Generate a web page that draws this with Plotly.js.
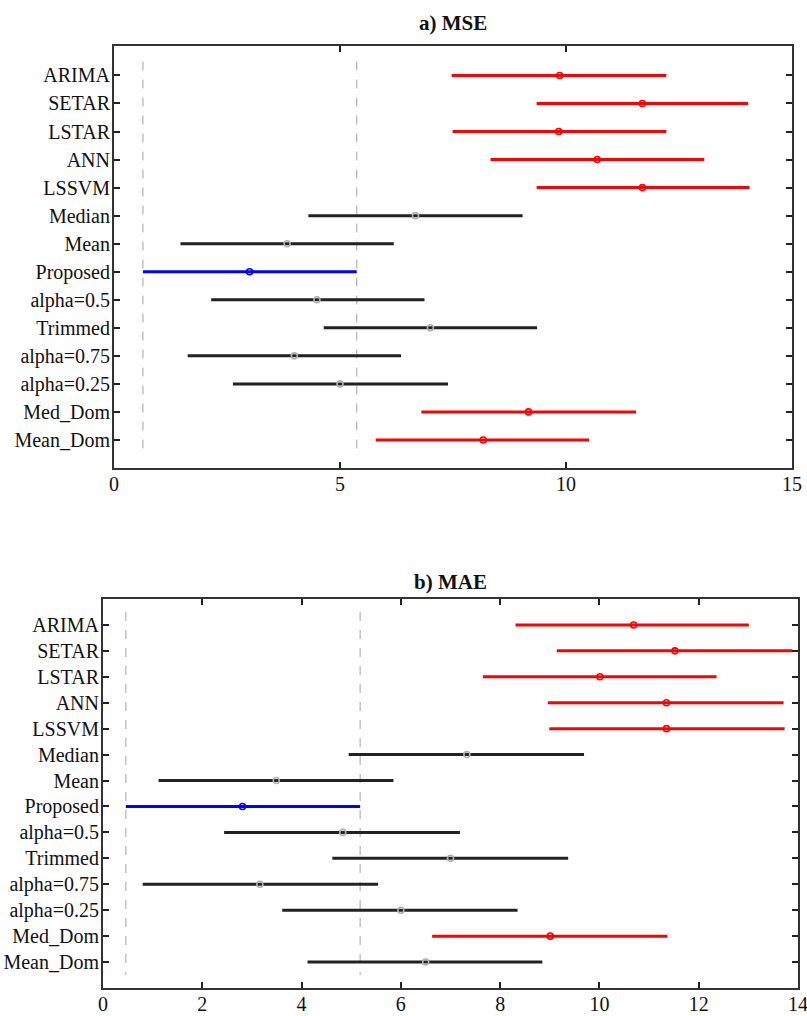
<!DOCTYPE html>
<html>
<head>
<meta charset="utf-8">
<script src="https://cdn.plot.ly/plotly-3.0.1.min.js"></script>
<style>html,body{margin:0;padding:0;background:#fff;}#chart{width:807px;height:1016px;}</style>
</head>
<body>
<div id="chart"></div>
<script>
const categories = ["ARIMA","SETAR","LSTAR","ANN","LSSVM","Median","Mean","Proposed","alpha=0.5","Trimmed","alpha=0.75","alpha=0.25","Med_Dom","Mean_Dom"];

// a) MSE
const mseCenter = [9.86, 11.69, 9.84, 10.69, 11.69, 6.67, 3.83, 3.00, 4.49, 7.00, 3.99, 5.00, 9.17, 8.17];
const mseLow    = [7.47, 9.35, 7.49, 8.33, 9.35, 4.30, 1.47, 0.64, 2.15, 4.64, 1.63, 2.63, 6.80, 5.79];
const mseHigh   = [12.22, 14.03, 12.22, 13.06, 14.06, 9.04, 6.19, 5.37, 6.87, 9.36, 6.35, 7.39, 11.55, 10.51];
const mseGroup  = ["sig","sig","sig","sig","sig","ns","ns","best","ns","ns","ns","ns","sig","sig"];

// b) MAE
const maeCenter = [10.69, 11.52, 10.01, 11.35, 11.35, 7.33, 3.49, 2.81, 4.83, 7.00, 3.16, 6.00, 9.01, 6.50];
const maeLow    = [8.31, 9.14, 7.65, 8.96, 8.99, 4.95, 1.12, 0.46, 2.44, 4.62, 0.80, 3.61, 6.63, 4.12];
const maeHigh   = [13.01, 13.89, 12.36, 13.71, 13.73, 9.69, 5.85, 5.18, 7.19, 9.37, 5.54, 8.35, 11.37, 8.85];
const maeGroup  = ["sig","sig","sig","sig","sig","ns","ns","best","ns","ns","ns","ns","sig","ns"];

const xTicksA = [0, 5, 10, 15];
const xTicksB = [0, 2, 4, 6, 8, 10, 12, 14];

const groupStyle = {
  sig:  {line: "#ff0000", marker: "#ff0000"},
  ns:   {line: "#222222", marker: "#b0b0b0"},
  best: {line: "#0000ff", marker: "#0000ff"}
};

const FONT = "'Liberation Serif', 'Times New Roman', serif";
const traces = [];
const yIdx = categories.map((c, i) => i + 1);

function addPanel(center, low, high, group, xa, ya) {
  ["sig", "ns", "best"].forEach(g => {
    const xs = [], ys = [], ep = [], em = [];
    center.forEach((c, i) => {
      if (group[i] === g) {
        xs.push(c); ys.push(yIdx[i]);
        ep.push(high[i] - c); em.push(c - low[i]);
      }
    });
    if (!xs.length) return;
    traces.push({
      type: "scatter", mode: "markers", x: xs, y: ys, xaxis: xa, yaxis: ya,
      showlegend: false, hoverinfo: "x+y", cliponaxis: false,
      marker: {symbol: "circle-open", size: 6, color: groupStyle[g].marker, line: {width: 1.6, color: groupStyle[g].marker}},
      error_x: {type: "data", symmetric: false, array: ep, arrayminus: em, width: 0, thickness: 3, color: groupStyle[g].line}
    });
  });
}
addPanel(mseCenter, mseLow, mseHigh, mseGroup, "x", "y");
addPanel(maeCenter, maeLow, maeHigh, maeGroup, "x2", "y2");

const pA = categories.indexOf("Proposed");
function dashed(xref, yref, xv) {
  return {type: "line", xref: xref, yref: yref, x0: xv, x1: xv, y0: 0.5, y1: 14.5,
          line: {color: "#b4b4b4", width: 1.2, dash: "dash"}, layer: "below"};
}
const shapes = [
  dashed("x", "y", mseLow[pA]), dashed("x", "y", mseHigh[pA]),
  dashed("x2", "y2", maeLow[pA]), dashed("x2", "y2", maeHigh[pA])
];

function xaxis(domain, ticks, range, anchor) {
  return {domain: domain, anchor: anchor, range: range, tickvals: ticks, ticktext: ticks.map(String),
    ticks: "inside", ticklen: 6, tickwidth: 2, tickcolor: "#222", showline: true, linecolor: "#333", linewidth: 2,
    mirror: "ticks", showgrid: false, zeroline: false, fixedrange: true,
    ticklabeloverflow: "allow", ticklabelstandoff: -3,
    tickfont: {family: FONT, size: 20, color: "#111"}};
}
function yaxis(domain, range, anchor) {
  return {domain: domain, anchor: anchor, range: range, tickvals: yIdx, ticktext: categories,
    ticks: "inside", ticklen: 6, tickwidth: 2, tickcolor: "#222", showline: true, linecolor: "#333", linewidth: 2,
    mirror: "ticks", showgrid: false, zeroline: false, fixedrange: true,
    ticklabeloverflow: "allow", ticklabelstandoff: -2,
    tickfont: {family: FONT, size: 20, color: "#111"}};
}

const W = 807, H = 1016;
const layout = {
  width: W, height: H, margin: {l: 0, r: 0, t: 0, b: 0},
  paper_bgcolor: "#fff", plot_bgcolor: "#fff", showlegend: false,
  xaxis: xaxis([114 / W, 792 / W], xTicksA, [0, 15], "y"),
  yaxis: yaxis([1 - 468 / H, 1 - 46 / H], [15, -0.05], "x"),
  xaxis2: xaxis([103 / W, 798 / W], xTicksB, [0, 14], "y2"),
  yaxis2: yaxis([1 - 988 / H, 1 - 599 / H], [15, 0], "x2"),
  shapes: shapes,
  annotations: [
    {text: "<b>a) MSE</b>", xref: "paper", yref: "paper", x: (114 + 792) / 2 / W, y: 1 - 23 / H,
     xanchor: "center", yanchor: "middle", showarrow: false, font: {family: FONT, size: 21, color: "#111"}},
    {text: "<b>b) MAE</b>", xref: "paper", yref: "paper", x: (103 + 798) / 2 / W, y: 1 - 582 / H,
     xanchor: "center", yanchor: "middle", showarrow: false, font: {family: FONT, size: 21, color: "#111"}}
  ]
};

Plotly.newPlot("chart", traces, layout, {displayModeBar: false, staticPlot: true});
</script>
</body>
</html>
